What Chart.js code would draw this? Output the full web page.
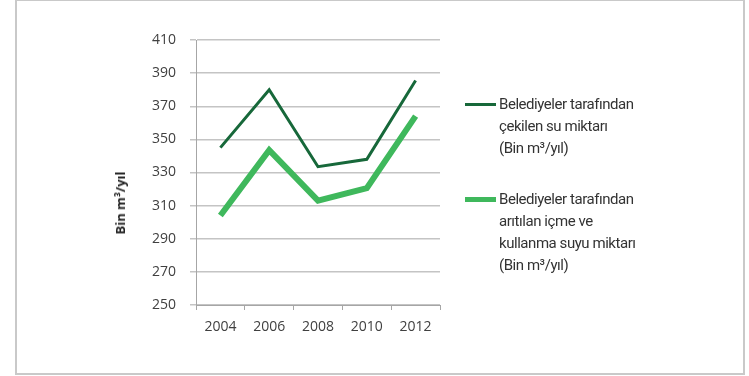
<!DOCTYPE html>
<html>
<head>
<meta charset="utf-8">
<script src="https://cdn.jsdelivr.net/npm/chart.js@4"></script>
<style>
  html, body { margin: 0; padding: 0; background: #fff; }
  #wrap { position: relative; width: 749px; height: 376px; overflow: hidden; }
  #frame { position: absolute; left: 15px; top: -1px; width: 730px; height: 376px; border: 2px solid #c9c9c9; box-sizing: border-box; }
  canvas { position: absolute; left: 0; top: 0; }
  .ytitle { position: absolute; left: 120px; top: 203px; transform: translate(-50%, -50%) rotate(-90deg); font: bold 13px "Open Sans", sans-serif; color: #222; white-space: nowrap; }
  .leg { position: absolute; left: 499px; font-family: Roboto, "Open Sans", sans-serif; font-size: 15px; letter-spacing: -0.45px; color: #333; line-height: 22px; white-space: nowrap; }
  .sw { position: absolute; left: 465px; width: 31px; }
</style>
</head>
<body>
<div id="wrap">
  <div id="frame"></div>
  <canvas id="c" width="749" height="376"></canvas>
  <div class="ytitle">Bin m³/yıl</div>
  <div class="sw" id="sw1"></div>
  <div class="leg" id="leg1"></div>
  <div class="sw" id="sw2"></div>
  <div class="leg" id="leg2"></div>
</div>
<script>
const years = ["2004", "2006", "2008", "2010", "2012"];
const cekilen = [345, 380, 333.5, 338, 385.5];
const aritilan = [304, 343.5, 313, 320.5, 364];
const seriesNames = [
  ["Belediyeler tarafından", "çekilen su miktarı", "(Bin m³/yıl)"],
  ["Belediyeler tarafından", "arıtılan içme ve", "kullanma suyu miktarı", "(Bin m³/yıl)"]
];
const yMin = 250, yMax = 410, yStep = 20;

const darkGreen = "#17683a";
const lightGreen = "#3fb85c";

// HTML legend
function buildLegend(idSw, idLeg, lines, color, thick, cy) {
  const sw = document.getElementById(idSw);
  sw.style.background = color;
  sw.style.height = thick + "px";
  sw.style.top = (cy - thick / 2) + "px";
  const lg = document.getElementById(idLeg);
  lg.style.top = (cy - 11) + "px";
  lg.innerHTML = lines.map(s => "<div>" + s + "</div>").join("");
}
buildLegend("sw1", "leg1", seriesNames[0], darkGreen, 3, 104);
buildLegend("sw2", "leg2", seriesNames[1], lightGreen, 5, 199);

new Chart(document.getElementById("c"), {
  type: "line",
  data: {
    labels: years,
    datasets: [
      { label: seriesNames[0].join(" "), data: cekilen, borderColor: darkGreen, backgroundColor: darkGreen, borderWidth: 3, pointRadius: 0, tension: 0 },
      { label: seriesNames[1].join(" "), data: aritilan, borderColor: lightGreen, backgroundColor: lightGreen, borderWidth: 6, pointRadius: 0, tension: 0 }
    ]
  },
  options: {
    responsive: false,
    animation: false,
    layout: { padding: { left: 0, right: 309, top: 40, bottom: 31 } },
    plugins: { legend: { display: false }, tooltip: { enabled: false } },
    scales: {
      x: {
        type: "category",
        offset: true,
        grid: { display: true, drawOnChartArea: false, offset: true, tickLength: 5, color: "#a6a6a6", lineWidth: 1 },
        border: { display: true, color: "#a6a6a6", width: 1 },
        ticks: { font: { family: "Open Sans", size: 14 }, color: "#404040", padding: 9, maxRotation: 0 },
        afterFit: s => { s.height = 40; }
      },
      y: {
        min: yMin, max: yMax,
        grid: { color: "#c4c4c4", lineWidth: 1.5, tickLength: 6 },
        border: { display: true, color: "#a6a6a6", width: 1 },
        ticks: { stepSize: yStep, font: { family: "Open Sans", size: 14 }, color: "#404040", padding: 14 },
        afterFit: s => { s.width = 196; }
      }
    }
  }
});
</script>
</body>
</html>
